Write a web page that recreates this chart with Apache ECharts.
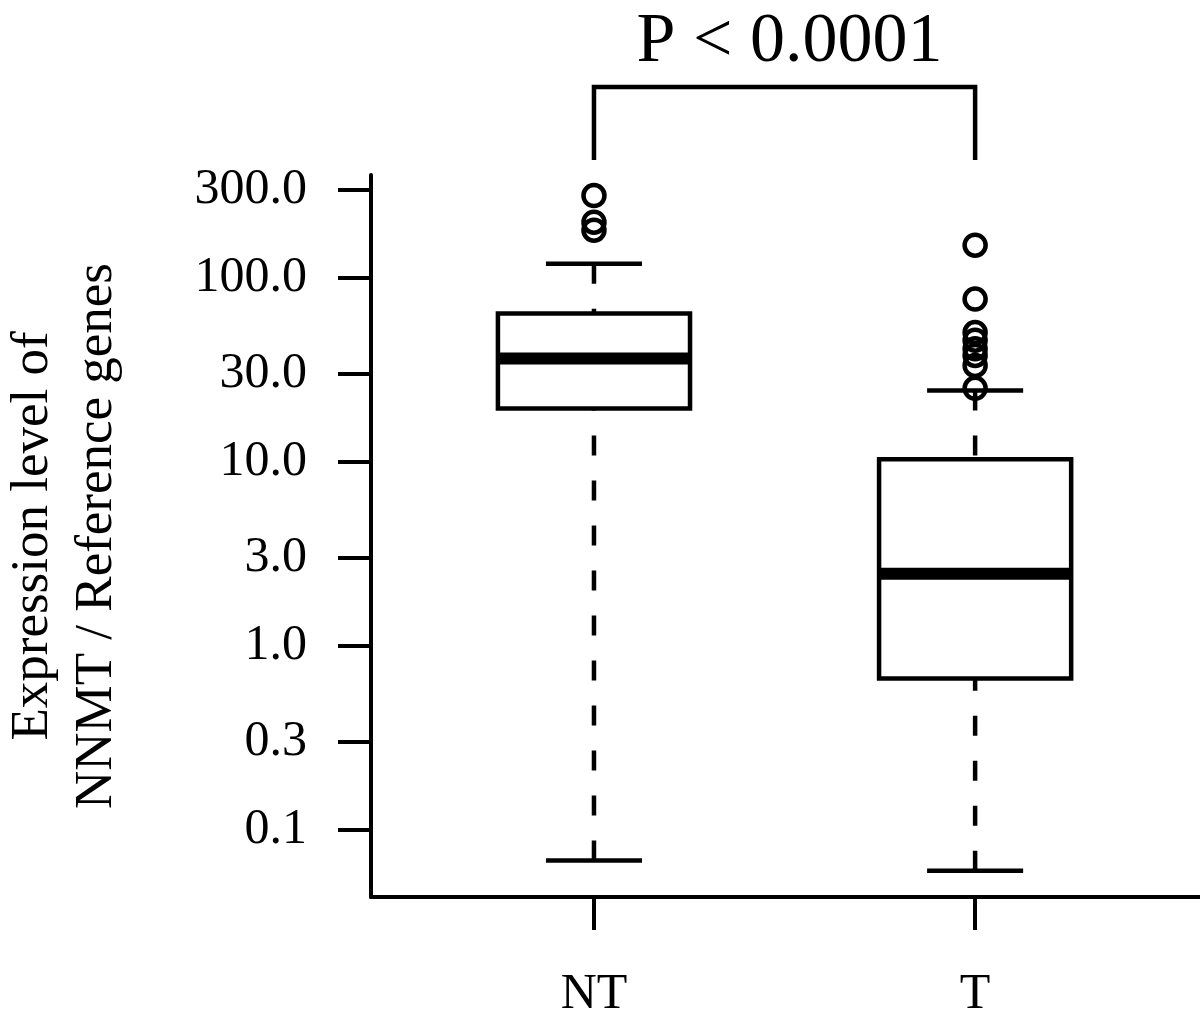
<!DOCTYPE html>
<html>
<head>
<meta charset="utf-8">
<script src="https://cdn.jsdelivr.net/npm/echarts@6/dist/echarts.min.js"></script>
<style>
  html, body { margin: 0; padding: 0; background: #fff; }
  #chart { width: 1200px; height: 1019px; }
</style>
</head>
<body>
<div id="chart"></div>
<script>
  // groups on the x axis
  const categories = ['NT', 'T']
  // box statistics per group
  const lowerWhisker = [0.068, 0.0598]
  const q1 = [19.4, 0.662]
  const median = [36.3, 2.46]
  const q3 = [63.7, 10.3]
  const upperWhisker = [119, 24.3]
  // outlying points
  const ntOutliers = [279, 200, 181]
  const tOutliers = [150, 76.4, 50.3, 45.7, 41.0, 37.7, 33.3, 25.0]
  // y axis tick values
  const yTicks = [0.1, 0.3, 1, 3, 10, 30, 100, 300]
  const pText = 'P < 0.0001'

  const font = 'Liberation Serif'

  const boxData = categories.map((c, i) => [i + 1, lowerWhisker[i], q1[i], median[i], q3[i], upperWhisker[i]])
  const outlierData = []
  ntOutliers.forEach(v => outlierData.push([1, v]))
  tOutliers.forEach(v => outlierData.push([2, v]))

  function renderBox (params, api) {
    const x = api.value(0)
    const low = api.coord([x, api.value(1)])
    const pq1 = api.coord([x, api.value(2)])
    const med = api.coord([x, api.value(3)])
    const pq3 = api.coord([x, api.value(4)])
    const up = api.coord([x, api.value(5)])
    const half = api.coord([x + 0.252, api.value(3)])[0] - low[0]
    const cx = low[0]
    const line = { stroke: '#000', lineWidth: 4.5 }
    const dashed = { stroke: '#000', lineWidth: 4.5, lineDash: [20, 25] }
    return {
      type: 'group',
      children: [
        { type: 'line', shape: { x1: cx, y1: up[1], x2: cx, y2: pq3[1] }, style: dashed },
        { type: 'line', shape: { x1: cx, y1: low[1], x2: cx, y2: pq1[1] }, style: dashed },
        { type: 'line', shape: { x1: cx - half / 2, y1: up[1], x2: cx + half / 2, y2: up[1] }, style: line },
        { type: 'line', shape: { x1: cx - half / 2, y1: low[1], x2: cx + half / 2, y2: low[1] }, style: line },
        { type: 'rect', shape: { x: cx - half, y: pq3[1], width: half * 2, height: pq1[1] - pq3[1] }, style: { fill: '#fff', stroke: '#000', lineWidth: 4.5 } },
        { type: 'line', shape: { x1: cx - half, y1: med[1], x2: cx + half, y2: med[1] }, style: { stroke: '#000', lineWidth: 12, lineCap: 'butt' } }
      ]
    }
  }

  // significance bracket between the two groups, above the plot area
  function renderBracket (params, api) {
    const top = params.coordSys.y
    const a = api.coord([1, 1])[0]
    const b = api.coord([2, 1])[0]
    const yLow = top - 15
    const yHigh = top - 88
    return {
      type: 'group',
      children: [
        { type: 'polyline', shape: { points: [[a, yLow], [a, yHigh], [b, yHigh], [b, yLow]] }, style: { stroke: '#000', lineWidth: 4.5, fill: null } },
        { type: 'text', x: (a + b) / 2 + 5, y: yHigh - 9, style: { text: pText, font: '70px "' + font + '"', fill: '#000', align: 'center', verticalAlign: 'bottom' } }
      ]
    }
  }

  const chart = echarts.init(document.getElementById('chart'))
  const option = {
    animation: false,
    backgroundColor: '#fff',
    grid: {
      left: 371,
      right: 0,
      top: 175,
      bottom: 122,
      containLabel: false,
      outerBoundsMode: 'none'
    },
    xAxis: {
      type: 'value',
      min: 0.415,
      max: 2.59,
      splitLine: { show: false },
      axisLine: { show: true, lineStyle: { color: '#000', width: 4 } },
      axisTick: { show: true, length: 33, lineStyle: { color: '#000', width: 4 }, customValues: [1, 2] },
      axisLabel: {
        customValues: [1, 2],
        margin: 73,
        color: '#000',
        fontFamily: font,
        fontSize: 50,
        formatter: v => categories[Math.round(v) - 1] || ''
      }
    },
    yAxis: {
      type: 'log',
      logBase: 10,
      min: 0.043,
      max: 361,
      name: 'Expression level of\nNNMT / Reference genes',
      nameLocation: 'middle',
      nameRotate: 90,
      nameGap: 242,
      nameTextStyle: { color: '#000', fontFamily: font, fontSize: 53, lineHeight: 64 },
      splitLine: { show: false },
      axisLine: { show: true, lineStyle: { color: '#000', width: 4 } },
      axisTick: { show: true, length: 33, lineStyle: { color: '#000', width: 4 }, customValues: yTicks },
      axisLabel: {
        customValues: yTicks,
        margin: 64,
        color: '#000',
        fontFamily: font,
        fontSize: 50,
        formatter: v => Number(v).toFixed(1)
      }
    },
    series: [
      {
        type: 'custom',
        renderItem: renderBox,
        encode: { x: 0, y: [1, 2, 3, 4, 5] },
        data: boxData,
        clip: false,
        z: 2
      },
      {
        type: 'scatter',
        data: outlierData,
        symbol: 'circle',
        symbolSize: 21,
        itemStyle: { color: 'rgba(0,0,0,0)', borderColor: '#000', borderWidth: 4.5, opacity: 1 },
        z: 3
      },
      {
        type: 'custom',
        renderItem: renderBracket,
        data: [[1.5, 1]],
        clip: false,
        silent: true,
        z: 4
      }
    ]
  }
  chart.setOption(option)
</script>
</body>
</html>
